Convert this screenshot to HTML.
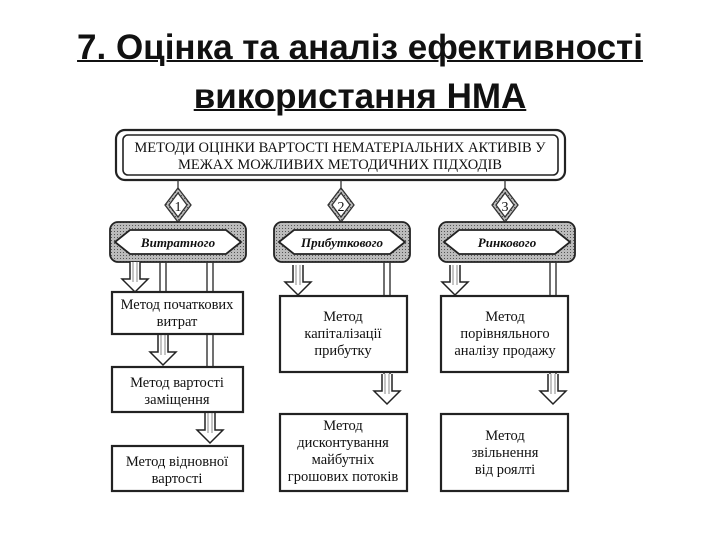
<!DOCTYPE html>
<html><head><meta charset="utf-8"><style>
body{margin:0;background:#fff;width:720px;height:540px;overflow:hidden;position:relative;font-family:"Liberation Sans",sans-serif}
.t{position:absolute;left:0;width:720px;text-align:center;font-weight:bold;font-size:35px;color:#111;text-decoration:underline;text-decoration-thickness:2px;line-height:40px}
svg{position:absolute;left:0;top:0}
svg text{font-family:"Liberation Serif",serif;fill:#111}
</style></head><body>
<div class="t" style="top:28px">7. Оцінка та аналіз ефективності</div>
<div class="t" style="top:77px">використання НМА</div>
<svg width="720" height="540" viewBox="0 0 720 540">
<defs>
<pattern id="g" width="3" height="3" patternUnits="userSpaceOnUse"><rect width="3" height="3" fill="#bbb"/><rect width="1" height="1" fill="#555"/></pattern>
<g id="ar"><path d="M-5,0V17H-13L0,30L13,17H5V0" fill="#fff" stroke="#222" stroke-width="1.5"/><line x1="-2" y1="0" x2="-2" y2="20" stroke="#888"/><line x1="2" y1="0" x2="2" y2="20" stroke="#888"/></g>
</defs>
<g stroke="#222" fill="none" stroke-width="2.2">
<rect x="116" y="130" width="449" height="50" rx="9"/>
<rect x="123" y="135" width="435" height="40" rx="5" stroke-width="1.6"/>
</g>
<text x="340" y="152" text-anchor="middle" font-size="14.5">МЕТОДИ ОЦІНКИ ВАРТОСТІ НЕМАТЕРІАЛЬНИХ АКТИВІВ У</text>
<text x="340" y="169" text-anchor="middle" font-size="14.5">МЕЖАХ МОЖЛИВИХ МЕТОДИЧНИХ ПІДХОДІВ</text>
<g stroke="#333" stroke-width="1.3">
<g transform="translate(178,0)"><line x1="0" y1="180" x2="0" y2="190"/><path d="M0,188L13,205L0,222L-13,205Z" fill="url(#g)"/><path d="M0,193L9,205L0,217L-9,205Z" fill="#fff"/></g>
<g transform="translate(341,0)"><line x1="0" y1="180" x2="0" y2="190"/><path d="M0,188L13,205L0,222L-13,205Z" fill="url(#g)"/><path d="M0,193L9,205L0,217L-9,205Z" fill="#fff"/></g>
<g transform="translate(505,0)"><line x1="0" y1="180" x2="0" y2="190"/><path d="M0,188L13,205L0,222L-13,205Z" fill="url(#g)"/><path d="M0,193L9,205L0,217L-9,205Z" fill="#fff"/></g>
</g>
<text x="178" y="211" text-anchor="middle" font-size="14">1</text>
<text x="341" y="211" text-anchor="middle" font-size="14">2</text>
<text x="505" y="211" text-anchor="middle" font-size="14">3</text>
<g stroke="#222" stroke-width="1.8">
<rect x="110" y="222" width="136" height="40" rx="8" fill="url(#g)"/>
<path d="M115,242L130,230H226L241,242L226,254H130Z" fill="#fff"/>
<rect x="274" y="222" width="136" height="40" rx="8" fill="url(#g)"/>
<path d="M279,242L294,230H390L405,242L390,254H294Z" fill="#fff"/>
<rect x="439" y="222" width="136" height="40" rx="8" fill="url(#g)"/>
<path d="M444,242L459,230H555L570,242L555,254H459Z" fill="#fff"/>
</g>
<g font-size="13" font-weight="bold" font-style="italic" text-anchor="middle">
<text x="178" y="247">Витратного</text><text x="342" y="247">Прибуткового</text><text x="507" y="247">Ринкового</text>
</g>
<g stroke="#333" stroke-width="1.4">
<line x1="160" y1="262" x2="160" y2="338"/><line x1="166" y1="262" x2="166" y2="338"/>
<line x1="207" y1="262" x2="207" y2="416"/><line x1="213" y1="262" x2="213" y2="416"/>
<line x1="384" y1="262" x2="384" y2="374"/><line x1="390" y1="262" x2="390" y2="374"/>
<line x1="550" y1="262" x2="550" y2="374"/><line x1="556" y1="262" x2="556" y2="374"/>
</g>
<use href="#ar" transform="translate(135,262)"/>
<use href="#ar" transform="translate(298,265)"/>
<use href="#ar" transform="translate(455,265)"/>
<use href="#ar" transform="translate(163,335)"/>
<use href="#ar" transform="translate(210,413)"/>
<use href="#ar" transform="translate(387,374)"/>
<use href="#ar" transform="translate(553,374)"/>
<g fill="#fff" stroke="#222" stroke-width="2.2">
<rect x="112" y="292" width="131" height="42"/>
<rect x="112" y="367" width="131" height="45"/>
<rect x="112" y="446" width="131" height="45"/>
<rect x="280" y="296" width="127" height="76"/>
<rect x="280" y="414" width="127" height="77"/>
<rect x="441" y="296" width="127" height="76"/>
<rect x="441" y="414" width="127" height="77"/>
</g>
<g font-size="14.5" text-anchor="middle">
<text x="177" y="309">Метод початкових</text><text x="177" y="326">витрат</text>
<text x="177" y="387">Метод вартості</text><text x="177" y="404">заміщення</text>
<text x="177" y="466">Метод відновної</text><text x="177" y="483">вартості</text>
<text x="343" y="321">Метод</text><text x="343" y="338">капіталізації</text><text x="343" y="355">прибутку</text>
<text x="343" y="430">Метод</text><text x="343" y="447">дисконтування</text><text x="343" y="464">майбутніх</text><text x="343" y="481">грошових потоків</text>
<text x="505" y="321">Метод</text><text x="505" y="338">порівняльного</text><text x="505" y="355">аналізу продажу</text>
<text x="505" y="440">Метод</text><text x="505" y="457">звільнення</text><text x="505" y="474">від роялті</text>
</g>
</svg>
</body></html>
